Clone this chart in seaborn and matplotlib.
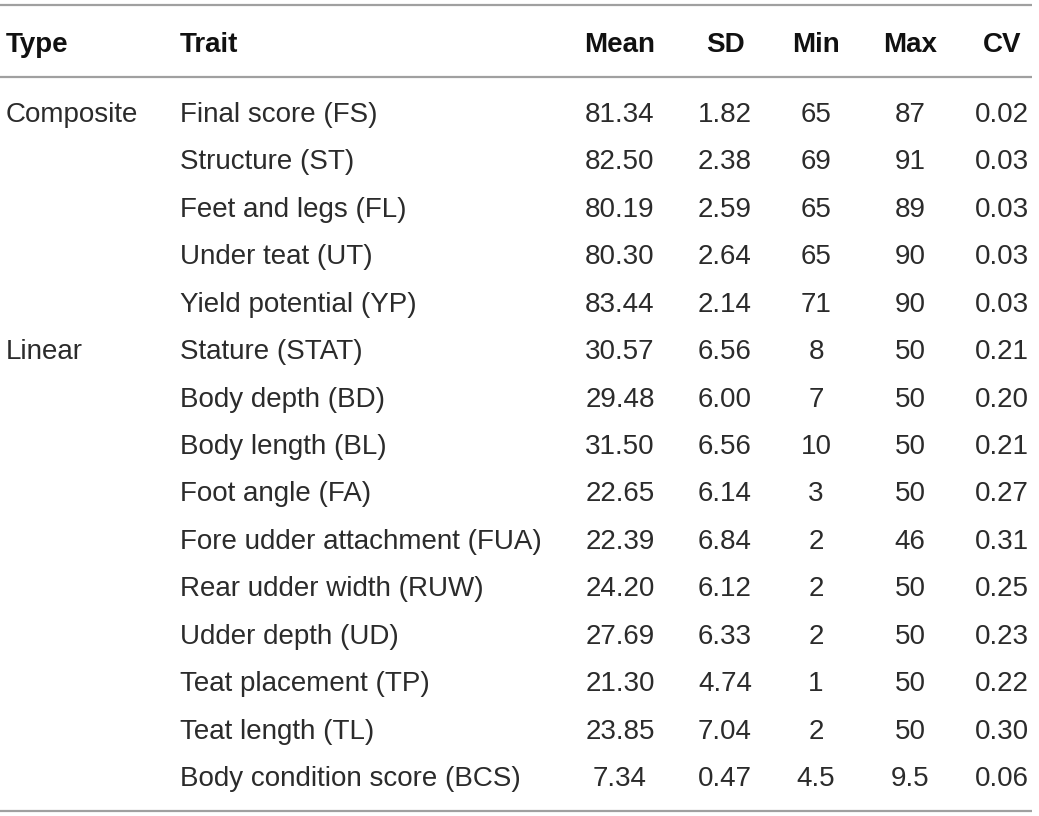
import seaborn as sns
import matplotlib.pyplot as plt

# table contents
types = ["Composite", "", "", "", "", "Linear", "", "", "", "", "", "", "", "", ""]
traits = [
    "Final score (FS)", "Structure (ST)", "Feet and legs (FL)", "Under teat (UT)",
    "Yield potential (YP)", "Stature (STAT)", "Body depth (BD)", "Body length (BL)",
    "Foot angle (FA)", "Fore udder attachment (FUA)", "Rear udder width (RUW)",
    "Udder depth (UD)", "Teat placement (TP)", "Teat length (TL)",
    "Body condition score (BCS)",
]
mean = [81.34, 82.50, 80.19, 80.30, 83.44, 30.57, 29.48, 31.50, 22.65, 22.39,
        24.20, 27.69, 21.30, 23.85, 7.34]
sd = [1.82, 2.38, 2.59, 2.64, 2.14, 6.56, 6.00, 6.56, 6.14, 6.84,
      6.12, 6.33, 4.74, 7.04, 0.47]
vmin = [65, 69, 65, 65, 71, 8, 7, 10, 3, 2, 2, 2, 1, 2, 4.5]
vmax = [87, 91, 89, 90, 90, 50, 50, 50, 50, 46, 50, 50, 50, 50, 9.5]
cv = [0.02, 0.03, 0.03, 0.03, 0.03, 0.21, 0.20, 0.21, 0.27, 0.31,
      0.25, 0.23, 0.22, 0.30, 0.06]
headers = ["Type", "Trait", "Mean", "SD", "Min", "Max", "CV"]

sns.set_theme(style="white")
plt.rcParams["font.family"] = ["Liberation Sans", "DejaVu Sans"]

W, H = 1039, 816
fig = plt.figure(figsize=(W / 100, H / 100), dpi=100)
ax = fig.add_axes([0, 0, 1, 1])
ax.set_xlim(0, W)
ax.set_ylim(H, 0)
ax.axis("off")

fs = 20
txt = "#2b2b2b"
rule = "#a0a0a0"

# column anchors (left for text columns, centre for numbers)
col_x = [6, 180, 620, 725, 816, 910, 1002]
col_ha = ["left", "left", "center", "center", "center", "center", "center"]

# rules
for y in (5, 77, 811):
    ax.plot([0, 1032], [y, y], color=rule, lw=1.6, solid_capstyle="butt")

# header
for h, x, ha in zip(headers, col_x, col_ha):
    ax.text(x, 52, h, ha=ha, va="baseline", fontsize=fs, fontweight="bold", color="#111111")

# body
row0, step = 122, 47.43
for i in range(len(traits)):
    y = row0 + i * step
    cells = [types[i], traits[i], f"{mean[i]:.2f}", f"{sd[i]:.2f}",
             f"{vmin[i]:g}", f"{vmax[i]:g}", f"{cv[i]:.2f}"]
    for c, x, ha in zip(cells, col_x, col_ha):
        ax.text(x, y, c, ha=ha, va="baseline", fontsize=fs, color=txt)

fig.savefig("out.png", dpi=100)
